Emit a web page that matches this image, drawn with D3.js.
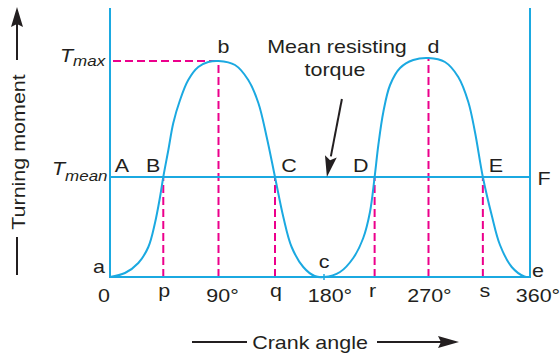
<!DOCTYPE html>
<html>
<head>
<meta charset="utf-8">
<script src="https://cdn.jsdelivr.net/npm/d3@7/dist/d3.min.js"></script>
<style>
  html, body { margin: 0; padding: 0; background: #fff; }
  svg { display: block; }
  text { font-family: "Liberation Sans", Arial, Helvetica, sans-serif; fill: #231f20; }
</style>
</head>
<body>
<svg id="chart" width="560" height="358"></svg>
<script>
// Turning moment diagram of a four-stroke engine (two humps per revolution)

// Crank angle (degrees) and turning moment (in units of T_mean) along the curve
const crankAngle = [
  0, 12.4, 23.5, 31.8, 37.3, 41.5, 44.2, 48.4, 52.5, 58.1, 64.9, 73.2, 81.5, 90,
  104.1, 115.4, 124.0, 131.1, 138.2, 145.3, 152.4, 162.3, 172.0, 180,
  193.8, 205.2, 213.8, 219.6, 223.6, 226.8, 231.1, 236.9, 245.5, 256.9, 270,
  284.6, 296.4, 305.3, 311.2, 318.2, 326.0, 333.4, 343.8, 355.0, 360
];
const torque = [
  0, 0.04, 0.14, 0.30, 0.54, 0.80, 1.00, 1.27, 1.54, 1.77, 1.97, 2.10, 2.15, 2.16,
  2.12, 1.97, 1.74, 1.40, 1.00, 0.60, 0.30, 0.10, 0.01, 0,
  0.05, 0.19, 0.39, 0.65, 1.00, 1.32, 1.65, 1.92, 2.09, 2.17, 2.19,
  2.15, 2.00, 1.75, 1.45, 1.00, 0.62, 0.32, 0.10, 0.005, 0
];

const T_MEAN = 1.0;
const T_MAX = 2.16;

// Points where the curve crosses the mean resisting torque line
const crossAngles = [44.2, 138.2, 223.6, 318.2];
const crossLetters = ["B", "C", "D", "E"];

// Peaks
const peakAngles = [90, 270];
const peakTorque = [2.16, 2.19];
const peakLetters = ["b", "d"];

// Crank angle axis labels
const tickAngles = [0, 44.2, 90, 138.2, 180, 223.6, 270, 318.2, 360];
const tickLabels = ["0", "p", "90°", "q", "180°", "r", "270°", "s", "360°"];

const BLUE = "#1ba9e1";
const PINK = "#ec008c";
const INK = "#231f20";
const SX = 1.13;      // horizontal stretch of the lettering

const svg = d3.select("#chart");

const x = d3.scaleLinear()
  .domain([0, 90, 180, 270, 360])
  .range([110, 218.5, 324, 428.5, 530]);
const y = d3.scaleLinear().domain([0, 2.69]).range([277, 8]);

const pts = crankAngle.map((a, i) => [a, torque[i]]);

function label(g, px, py, str, opts = {}) {
  const t = g.append("text")
    .attr("transform", `translate(${px},${py}) ${opts.rotate ? `rotate(${opts.rotate})` : ""} scale(${SX},1)`)
    .attr("text-anchor", opts.anchor || "middle")
    .style("font-size", (opts.size || 19) + "px")
    .text(str);
  if (opts.italic) t.style("font-style", "italic");
  return t;
}

const g = svg.append("g");

// dashed guides
const dash = g.append("g")
  .attr("stroke", PINK).attr("stroke-width", 2).attr("stroke-dasharray", "8,4").attr("fill", "none");

dash.append("line")
  .attr("x1", x(0) + 3).attr("x2", x(90))
  .attr("y1", y(T_MAX)).attr("y2", y(T_MAX));

peakAngles.forEach((a, i) => {
  dash.append("line")
    .attr("x1", x(a)).attr("x2", x(a))
    .attr("y1", y(0)).attr("y2", y(peakTorque[i]));
});
crossAngles.forEach(a => {
  dash.append("line")
    .attr("x1", x(a)).attr("x2", x(a))
    .attr("y1", y(0)).attr("y2", y(T_MEAN));
});

// frame, base line and mean resisting torque line
const frame = g.append("g").attr("stroke", BLUE).attr("stroke-width", 2).attr("fill", "none");
frame.append("line").attr("x1", x(0)).attr("x2", x(0)).attr("y1", y(2.69)).attr("y2", y(0) + 1);
frame.append("line").attr("x1", x(360)).attr("x2", x(360)).attr("y1", y(2.69)).attr("y2", y(0) + 1);
frame.append("line").attr("x1", x(0)).attr("x2", x(360)).attr("y1", y(0)).attr("y2", y(0));
frame.append("line").attr("x1", x(0)).attr("x2", x(360)).attr("y1", y(T_MEAN)).attr("y2", y(T_MEAN));
frame.append("line").attr("x1", x(180)).attr("x2", x(180)).attr("y1", y(0) - 3).attr("y2", y(0) + 3).attr("stroke-width", 1.5);

// turning moment curve
const line = d3.line().x(d => x(d[0])).y(d => Math.min(y(d[1]), y(0))).curve(d3.curveCatmullRom.alpha(0.5));
g.append("path")
  .datum(pts)
  .attr("d", line)
  .attr("fill", "none")
  .attr("stroke", BLUE)
  .attr("stroke-width", 2);

// arrow to the mean resisting torque line
const tipX = x(182.5), tipY = y(T_MEAN);
const startX = tipX + 15, startY = tipY - 78;
const ang = Math.atan2(tipY - startY, tipX - startX);
const headLen = 21, headHalf = 6;
const bx = tipX - headLen * Math.cos(ang), by = tipY - headLen * Math.sin(ang);
g.append("line")
  .attr("x1", startX).attr("y1", startY).attr("x2", bx).attr("y2", by)
  .attr("stroke", INK).attr("stroke-width", 2);
g.append("path")
  .attr("d", `M${tipX},${tipY} L${bx + headHalf * Math.sin(ang)},${by - headHalf * Math.cos(ang)} L${bx + 4 * Math.cos(ang)},${by + 4 * Math.sin(ang)} L${bx - headHalf * Math.sin(ang)},${by + headHalf * Math.cos(ang)} Z`)
  .attr("fill", INK);

// letters on the diagram
const lab = g.append("g");
peakAngles.forEach((a, i) => label(lab, x(a) + 5, 53, peakLetters[i]));
label(lab, 337, 53, "Mean resisting");
label(lab, 335, 76, "torque");
label(lab, 122, y(T_MEAN) - 5, "A");
crossAngles.forEach((a, i) => {
  const off = [-10, 14, -14, 13][i];
  label(lab, x(a) + off, y(T_MEAN) - 5, crossLetters[i]);
});
label(lab, x(360) + 14, y(T_MEAN) + 8, "F");
label(lab, x(0) - 11, y(0) - 4, "a");
label(lab, x(180), y(0) - 9, "c");
label(lab, x(360) + 8, y(0), "e");

// T_max and T_mean
const tmax = lab.append("text")
  .attr("transform", `translate(60,${y(T_MAX) + 1}) scale(${SX},1)`)
  .style("font-style", "italic");
tmax.append("tspan").style("font-size", "19px").text("T");
tmax.append("tspan").style("font-size", "15px").attr("dy", 4).text("max");

const tmean = lab.append("text")
  .attr("transform", `translate(52,${y(T_MEAN) - 2}) scale(${SX},1)`)
  .style("font-style", "italic");
tmean.append("tspan").style("font-size", "19px").text("T");
tmean.append("tspan").style("font-size", "15px").attr("dy", 6).text("mean");

// crank angle labels
const tickDx = [-6, 1, 4, 1, 6, -2, 1, 2, 8];
tickAngles.forEach((a, i) => {
  const isLetter = /^[a-z]$/.test(tickLabels[i]);
  label(lab, x(a) + tickDx[i], isLetter ? 297 : 302, tickLabels[i]);
});

// axis titles with arrows
const ttl = g.append("g");
label(ttl, 25, 152, "Turning moment", { rotate: -90 });
ttl.append("line").attr("x1", 17).attr("x2", 17).attr("y1", 237).attr("y2", 275).attr("stroke", INK).attr("stroke-width", 2);
ttl.append("line").attr("x1", 17).attr("x2", 17).attr("y1", 60).attr("y2", 24).attr("stroke", INK).attr("stroke-width", 2);
ttl.append("path").attr("d", "M17,7 L23,27 L17,24 L11,27 Z").attr("fill", INK);

label(ttl, 310, 349, "Crank angle");
ttl.append("line").attr("x1", 192).attr("x2", 247).attr("y1", 342).attr("y2", 342).attr("stroke", INK).attr("stroke-width", 2);
ttl.append("line").attr("x1", 377).attr("x2", 442).attr("y1", 342).attr("y2", 342).attr("stroke", INK).attr("stroke-width", 2);
ttl.append("path").attr("d", "M459,342 L438,336 L441,342 L438,348 Z").attr("fill", INK);
</script>
</body>
</html>
